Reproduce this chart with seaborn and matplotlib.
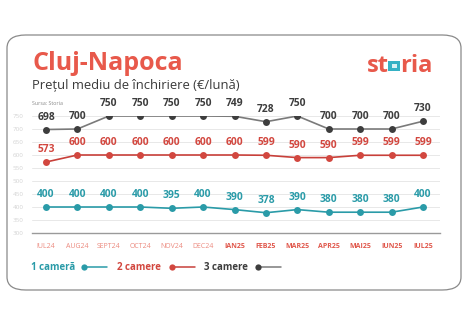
import matplotlib
matplotlib.use("Agg")
import matplotlib.pyplot as plt
import seaborn as sns
import pandas as pd
from matplotlib.patches import FancyBboxPatch, Rectangle

months = ["IUL24", "AUG24", "SEPT24", "OCT24", "NOV24", "DEC24", "IAN25",
          "FEB25", "MAR25", "APR25", "MAI25", "IUN25", "IUL25"]
one_room = [400, 400, 400, 400, 395, 400, 390, 378, 390, 380, 380, 380, 400]
two_rooms = [573, 600, 600, 600, 600, 600, 600, 599, 590, 590, 599, 599, 599]
three_rooms = [698, 700, 750, 750, 750, 750, 749, 728, 750, 700, 700, 700, 730]
series_names = ["1 cameră", "2 camere", "3 camere"]
y_ticks = [300, 350, 400, 450, 500, 550, 600, 650, 700, 750]

colors = {"1 cameră": "#2a9ba8", "2 camere": "#d2473f", "3 camere": "#3d3d3d"}
line_colors = {"1 cameră": "#2a9ba8", "2 camere": "#c8403a", "3 camere": "#7a7a7a"}
coral = "#e8594b"

rows = []
for name, vals in zip(series_names, [one_room, two_rooms, three_rooms]):
    for i, (m, v) in enumerate(zip(months, vals)):
        rows.append({"idx": i, "month": m, "value": v, "series": name})
df = pd.DataFrame(rows)

sns.set_theme(style="white")
plt.rcParams["font.family"] = ["Open Sans", "DejaVu Sans"]

W, H = 468, 326
fig = plt.figure(figsize=(W / 100, H / 100), dpi=100)
fig.patch.set_facecolor("white")

# card
card = FancyBboxPatch((7 / W, 1 - 290 / H), (461 - 7) / W, (290 - 35) / H,
                      boxstyle="round,pad=0,rounding_size=0.04",
                      transform=fig.transFigure, facecolor="white",
                      edgecolor="#8a8a8a", linewidth=0.9, zorder=-5)
fig.patches.append(card)

ax = fig.add_axes([32 / W, 1 - 233 / H, (440 - 32) / W, (233 - 116) / H])
ax.set_facecolor("none")
ax.set_zorder(2)

sns.lineplot(data=df, x="idx", y="value", hue="series", palette=line_colors,
             marker="o", markersize=5, markeredgewidth=0, linewidth=1.2,
             legend=False, ax=ax, zorder=3)
for line, name in zip(ax.get_lines(), series_names):
    line.set_markerfacecolor(colors[name])
    line.set_markeredgecolor(colors[name])

ax.set_xlim(-0.446, 12.54)
ax.set_ylim(300, 750)
ax.set_yticks(y_ticks)
ax.set_yticklabels([str(t) for t in y_ticks], fontsize=4.5, color="#d4d4d4")
ax.set_xticks(range(len(months)))
ax.set_xticklabels(months, fontsize=5)
for i, lab in enumerate(ax.get_xticklabels()):
    if months[i].endswith("25"):
        lab.set_color("#e0574b")
        lab.set_fontweight("bold")
    else:
        lab.set_color("#ec8b80")
ax.tick_params(axis="x", length=0, pad=7)
ax.tick_params(axis="y", length=0, pad=6)
ax.set_xlabel("")
ax.set_ylabel("")
ax.grid(axis="y", color="#e8e8e8", linewidth=0.7)
for s in ["top", "right", "left"]:
    ax.spines[s].set_visible(False)
ax.spines["bottom"].set_color("#9a9a9a")
ax.spines["bottom"].set_linewidth(1.0)

for name, vals in zip(series_names, [one_room, two_rooms, three_rooms]):
    for i, v in enumerate(vals):
        ax.annotate(str(v), (i, v), xytext=(0, 9), textcoords="offset points",
                    ha="center", va="center", fontsize=7.4, fontweight="bold",
                    color=colors[name], annotation_clip=False)

# titles
fig.text(32 / W, 1 - 64 / H, "Cluj-Napoca", fontsize=18, fontweight="bold",
         color=coral, va="center", ha="left")
fig.text(32 / W, 1 - 86 / H, "Prețul mediu de închiriere (€/lună)", fontsize=9.4,
         color="#3a3a3a", va="center", ha="left")
fig.text(32 / W, 1 - 104 / H, "Sursa: Storia", fontsize=3.8, color="#888888",
         va="center", ha="left")

# logo
fig.text(388.5 / W, 1 - 66 / H, "st", fontsize=17, fontweight="bold", color=coral,
         va="center", ha="right")
fig.patches.append(Rectangle((388 / W, 1 - 71 / H), 12 / W, 10 / H,
                             transform=fig.transFigure, facecolor="#35b1c4",
                             edgecolor="none"))
fig.patches.append(Rectangle((391.5 / W, 1 - 68 / H), 5 / W, 4 / H,
                             transform=fig.transFigure, facecolor="#d9f1f4",
                             edgecolor="none"))
fig.text(400 / W, 1 - 66 / H, "ria", fontsize=17, fontweight="bold", color=coral,
         va="center", ha="left")

# legend
leg_y = 1 - 267 / H
leg = [("1 cameră", 31, 84, 107), ("2 camere", 117, 172, 195), ("3 camere", 204, 258, 281)]
for name, tx, mx, ex in leg:
    fig.text(tx / W, leg_y, name, fontsize=7.0, fontweight="bold", color=colors[name],
             va="center", ha="left")
    fig.add_artist(plt.Line2D([mx / W, ex / W], [leg_y, leg_y], color=line_colors[name],
                              linewidth=1.1, transform=fig.transFigure))
    fig.add_artist(plt.Line2D([mx / W], [leg_y], color=colors[name], marker="o",
                              markersize=4.5, markeredgewidth=0,
                              transform=fig.transFigure))

fig.savefig("out.png", dpi=100, facecolor="white")
